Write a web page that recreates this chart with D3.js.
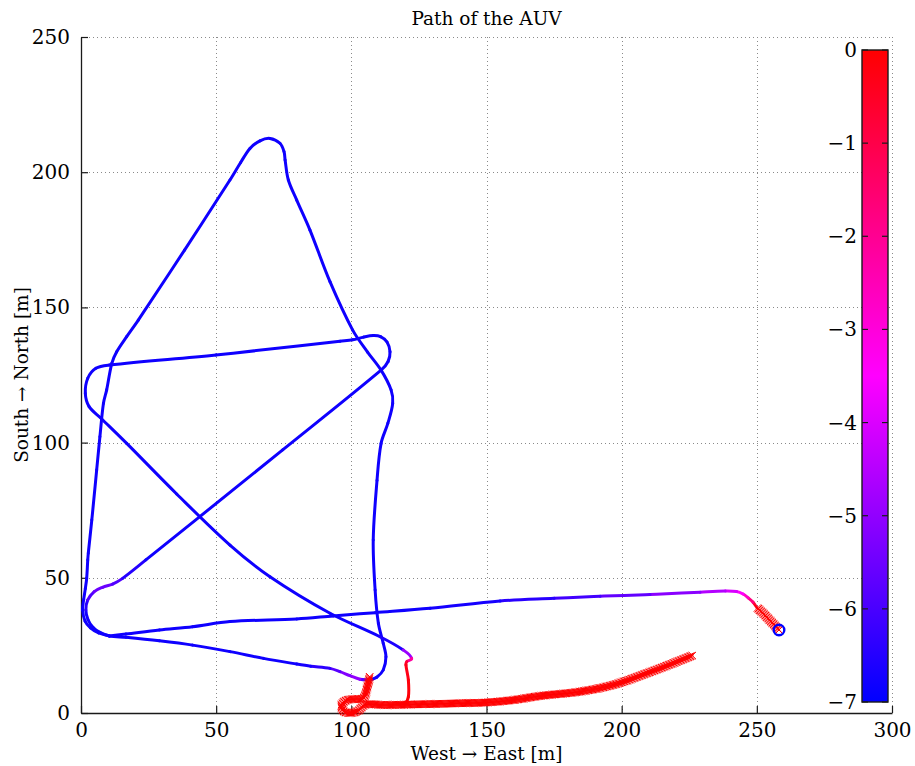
<!DOCTYPE html>
<html>
<head>
<meta charset="utf-8">
<script src="https://cdn.jsdelivr.net/npm/d3@7"></script>
<style>
  html, body { margin: 0; padding: 0; background: #ffffff; }
  svg { display: block; }
  text { font-family: "DejaVu Serif", serif; fill: #000; }
</style>
</head>
<body>
<svg id="chart" width="915" height="766"></svg>
<script>
// ---- data: AUV track, [east m, north m, depth m] ----
const xTicks = [0, 50, 100, 150, 200, 250, 300];
const yTicks = [0, 50, 100, 150, 200, 250];
const depthTicks = [0, -1, -2, -3, -4, -5, -6, -7];

// westbound leg after the dive at the launch point
const legWest = [
  [250.0, 39.0, -0.3], [248.6, 41.0, -1.2], [246.8, 42.6, -2.2], [244.9, 44.0, -3.2],
  [242.5, 44.9, -3.8], [238.3, 45.1, -4.3], [229.0, 44.7, -4.8], [210.5, 43.8, -5.4],
  [192.0, 43.2, -5.9], [175.0, 42.4, -6.3], [155.0, 41.4, -6.6], [129.1, 38.7, -6.8],
  [108.8, 37.1, -6.8], [93.3, 35.9, -6.8], [79.8, 34.8, -6.8], [55.1, 33.8, -6.8],
  [41.3, 31.9, -6.8], [29.0, 30.7, -6.8], [16.6, 29.2, -6.8], [10.5, 28.5, -6.8]
];

// northward run along the west side, the triangle and the east side back south
const legTriangle = [
  [10.5, 28.5, -6.8], [6.5, 29.6, -6.8], [3.5, 31.5, -6.8], [1.5, 34.0, -6.8],
  [0.6, 38.1, -6.8], [1.0, 42.0, -6.8], [1.6, 46.0, -6.8], [2.1, 49.8, -6.8],
  [2.5, 56.6, -6.8], [2.7, 59.1, -6.8], [4.0, 71.4, -6.8], [5.8, 89.9, -6.8],
  [7.0, 102.2, -6.8], [8.3, 114.5, -6.8], [9.5, 119.5, -6.8], [11.4, 129.3, -6.8],
  [13.2, 133.6, -6.8], [16.9, 139.2, -6.8], [21.2, 145.3, -6.8], [38.3, 171.2, -6.8],
  [55.1, 197.1, -6.8], [59.0, 203.5, -6.8], [62.5, 208.8, -6.8], [66.2, 211.6, -6.8],
  [69.9, 212.5, -6.8], [73.6, 210.7, -6.8], [75.1, 207.6, -6.8], [75.5, 204.5, -6.8],
  [76.7, 197.1, -6.8], [79.8, 189.7, -6.8], [84.7, 178.6, -6.8], [92.1, 159.5, -6.8],
  [100.5, 141.6, -6.8], [106.0, 133.5, -6.8], [111.0, 126.8, -6.8], [114.7, 119.5, -6.8],
  [115.3, 114.5, -6.8], [113.5, 107.1, -6.8], [111.0, 99.7, -6.8], [109.5, 86.0, -6.8],
  [108.1, 64.0, -6.8], [108.8, 45.5, -6.8], [110.0, 33.2, -6.8], [111.8, 25.8, -6.8],
  [112.8, 20.8, -6.8], [111.8, 15.9, -6.8], [109.4, 13.2, -6.8], [106.9, 12.2, -6.6]
];

// second pass: west, cross-diagonals and the box, ending in the ascent
const legCross = [
  [106.9, 12.2, -6.6], [103.2, 12.5, -5.0], [99.5, 13.8, -5.0], [95.8, 15.3, -5.4],
  [92.1, 16.5, -6.2], [85.0, 17.3, -6.6], [79.8, 18.1, -6.8], [67.5, 20.2, -6.8],
  [55.1, 22.7, -6.8], [41.3, 25.1, -6.8], [29.0, 26.7, -6.8], [16.6, 28.0, -6.8],
  [10.5, 28.5, -6.8], [7.0, 29.8, -6.8], [4.5, 31.6, -6.8], [2.6, 34.5, -6.8],
  [1.8, 38.1, -6.7], [2.5, 41.8, -6.2], [4.9, 44.9, -5.6], [8.0, 46.5, -5.5],
  [11.7, 47.7, -5.6], [15.4, 49.8, -6.2], [24.0, 56.6, -6.8], [74.6, 97.3, -6.8],
  [111.0, 126.8, -6.8], [113.6, 130.0, -6.8], [114.3, 133.6, -6.8], [113.2, 137.2, -6.8],
  [110.8, 139.2, -6.8], [108.1, 139.6, -6.8], [104.5, 139.0, -6.8], [100.5, 138.0, -6.8],
  [95.8, 137.5, -6.8], [49.9, 132.4, -6.8], [10.5, 128.7, -6.8], [5.5, 127.5, -6.8],
  [2.5, 123.8, -6.8], [1.6, 118.2, -6.8], [3.0, 113.3, -6.8], [7.4, 109.0, -6.8],
  [16.9, 99.7, -6.8], [35.4, 81.0, -6.8], [55.1, 62.1, -6.8], [69.9, 50.4, -6.8],
  [92.1, 36.9, -6.8], [110.6, 28.2, -6.8], [119.2, 23.3, -6.4], [122.3, 20.2, -3.4],
  [120.5, 19.0, -0.9], [120.2, 17.8, -0.4], [121.1, 12.2, -0.2], [121.1, 6.0, -0.1],
  [119.9, 3.8, 0], [116.8, 3.3, 0]
];

// surface fixes (east, north)
const surfaceStart = [
  [258.2, 30.7], [256.5, 32.5], [254.5, 34.6], [252.3, 36.9], [250.0, 39.0]
];
const surfaceEnd = [
  [106.8, 13.4], [106.0, 10.0], [104.4, 5.4], [101.5, 5.2], [98.0, 4.6], [96.3, 2.8],
  [97.2, 0.6], [100.0, 0.0], [102.8, 1.0], [104.5, 2.8], [107.0, 3.3], [110.6, 3.0],
  [125.0, 3.2], [140.2, 3.6], [150.1, 3.9], [159.9, 4.8], [169.8, 6.3], [184.6, 7.9],
  [196.9, 10.4], [209.3, 14.7], [218.0, 18.0], [226.5, 21.4]
];
const launchPoint = [258.2, 30.7];

// ---- layout ----
const svg = d3.select("#chart");
const plotLeft = 81, plotRight = 892, plotTop = 37, plotBottom = 713;

const x = d3.scaleLinear().domain([0, 300]).range([plotLeft, plotRight]);
const y = d3.scaleLinear().domain([0, 250]).range([plotBottom, plotTop]);
const depthColor = d3.scaleLinear()
  .domain([0, -3.5, -7])
  .range(["#ff0000", "#ff00ff", "#0000ff"])
  .clamp(true);

// grid
const grid = svg.append("g").attr("stroke", "#8a8a8a").attr("stroke-width", 1)
  .attr("stroke-dasharray", "1,3");
grid.selectAll("line.vx").data(xTicks.filter(d => d > 0)).join("line")
  .attr("x1", d => Math.round(x(d)) + 0.5).attr("x2", d => Math.round(x(d)) + 0.5)
  .attr("y1", plotTop).attr("y2", plotBottom);
grid.selectAll("line.hy").data(yTicks.filter(d => d > 0)).join("line")
  .attr("x1", plotLeft).attr("x2", plotRight)
  .attr("y1", d => Math.round(y(d)) + 0.5).attr("y2", d => Math.round(y(d)) + 0.5);

// axes (ticks point inward)
const xAxis = d3.axisBottom(x).tickValues(xTicks).tickSizeInner(-7).tickSizeOuter(0).tickPadding(10);
const yAxis = d3.axisLeft(y).tickValues(yTicks).tickSizeInner(-7).tickSizeOuter(0).tickPadding(11);
const gx = svg.append("g").attr("transform", `translate(0,${plotBottom})`).call(xAxis);
const gy = svg.append("g").attr("transform", `translate(${plotLeft},0)`).call(yAxis);
[gx, gy].forEach(g => {
  g.select(".domain").attr("stroke", "#1a1a1a").attr("stroke-width", 1.3);
  g.selectAll(".tick line").attr("stroke", "#1a1a1a").attr("stroke-width", 1.2);
  g.selectAll(".tick text").attr("font-family", "DejaVu Serif").attr("font-size", 20).attr("fill", "#000");
});
gx.selectAll(".tick text").attr("dy", "0.71em");

// track: each leg is a smooth curve, split into cubic pieces so that every
// piece can carry the colour of its depth. Tangents are normalised so that
// uneven point spacing does not produce overshoot.
function smoothPieces(leg) {
  const p = leg.map(d => [x(d[0]), y(d[1]), d[2]]);
  const n = p.length;
  const tangent = i => {
    const a = p[Math.max(i - 1, 0)], b = p[Math.min(i + 1, n - 1)];
    const dx = b[0] - a[0], dy = b[1] - a[1];
    const L = Math.hypot(dx, dy) || 1;
    return [dx / L, dy / L];
  };
  const out = [];
  for (let i = 0; i < n - 1; i++) {
    const p1 = p[i], p2 = p[i + 1];
    const seg = Math.hypot(p2[0] - p1[0], p2[1] - p1[1]) / 3;
    const t1 = tangent(i), t2 = tangent(i + 1);
    const c1 = [p1[0] + t1[0] * seg, p1[1] + t1[1] * seg];
    const c2 = [p2[0] - t2[0] * seg, p2[1] - t2[1] * seg];
    out.push({
      d: `M${p1[0]},${p1[1]}C${c1[0]},${c1[1]} ${c2[0]},${c2[1]} ${p2[0]},${p2[1]}`,
      depth: (p1[2] + p2[2]) / 2
    });
  }
  return out;
}
const trackGroup = svg.append("g").attr("fill", "none").attr("stroke-width", 3)
  .attr("stroke-linecap", "round");
[legWest, legTriangle, legCross].forEach(leg => {
  trackGroup.append("g").selectAll("path").data(smoothPieces(leg)).join("path")
    .attr("d", d => d.d)
    .attr("stroke", d => depthColor(d.depth));
});

// surface fixes drawn as dense red crosses
const surfLine = d3.line().x(d => x(d[0])).y(d => y(d[1])).curve(d3.curveCatmullRom);
const crossGroup = svg.append("g").attr("stroke", "#ff0000").attr("stroke-width", 1);
[surfaceStart, surfaceEnd].forEach(track => {
  const guide = svg.append("path").attr("d", surfLine(track)).attr("fill", "none")
    .attr("stroke", "#ff0000").attr("stroke-width", 1.5);
  const node = guide.node();
  const len = node.getTotalLength();
  const pts = d3.range(0, len, 1.1).map(l => node.getPointAtLength(l));
  const s = 3.7;
  crossGroup.append("g").selectAll("path").data(pts).join("path")
    .attr("d", p => `M${p.x - s},${p.y - s}L${p.x + s},${p.y + s}M${p.x - s},${p.y + s}L${p.x + s},${p.y - s}`);
});

// launch marker
svg.append("circle").attr("cx", x(launchPoint[0])).attr("cy", y(launchPoint[1])).attr("r", 5.3)
  .attr("fill", "none").attr("stroke", "#0000ff").attr("stroke-width", 2.4);

// colour bar
const cbLeft = 862, cbRight = 888, cbTop = 50, cbBottom = 702;
const cy = d3.scaleLinear().domain([-7, 0]).range([cbBottom, cbTop]);
const defs = svg.append("defs");
const grad = defs.append("linearGradient").attr("id", "depthGrad")
  .attr("x1", 0).attr("y1", 0).attr("x2", 0).attr("y2", 1);
[0, -3.5, -7].forEach(v => {
  grad.append("stop").attr("offset", (cy(v) - cbTop) / (cbBottom - cbTop)).attr("stop-color", depthColor(v));
});
svg.append("rect").attr("x", cbLeft).attr("y", cbTop).attr("width", cbRight - cbLeft)
  .attr("height", cbBottom - cbTop).attr("fill", "url(#depthGrad)");
const cbTicks = svg.append("g").attr("stroke", "#1a1a1a").attr("stroke-width", 1.2);
cbTicks.selectAll("line.l").data(depthTicks).join("line")
  .attr("x1", cbLeft).attr("x2", cbLeft + 6).attr("y1", d => cy(d)).attr("y2", d => cy(d));
cbTicks.selectAll("line.r").data(depthTicks).join("line")
  .attr("x1", cbRight - 6).attr("x2", cbRight).attr("y1", d => cy(d)).attr("y2", d => cy(d));
svg.append("rect").attr("x", cbLeft).attr("y", cbTop).attr("width", cbRight - cbLeft)
  .attr("height", cbBottom - cbTop).attr("fill", "none").attr("stroke", "#1a1a1a").attr("stroke-width", 1.4);
svg.append("g").selectAll("text").data(depthTicks).join("text")
  .attr("x", cbLeft - 5).attr("y", d => cy(d)).attr("dy", "0.35em")
  .attr("text-anchor", "end").attr("font-size", 20)
  .text(d => d3.format("")(d));

// titles
const midX = (plotLeft + plotRight) / 2;
svg.append("text").attr("x", midX).attr("y", 25).attr("text-anchor", "middle")
  .attr("font-size", 18.5).text("Path of the AUV");
svg.append("text").attr("x", midX).attr("y", 760).attr("text-anchor", "middle")
  .attr("font-size", 18.5).text("West → East [m]");
svg.append("text").attr("transform", `translate(28,${(plotTop + plotBottom) / 2}) rotate(-90)`)
  .attr("text-anchor", "middle").attr("font-size", 18.5).text("South → North [m]");
</script>
</body>
</html>
